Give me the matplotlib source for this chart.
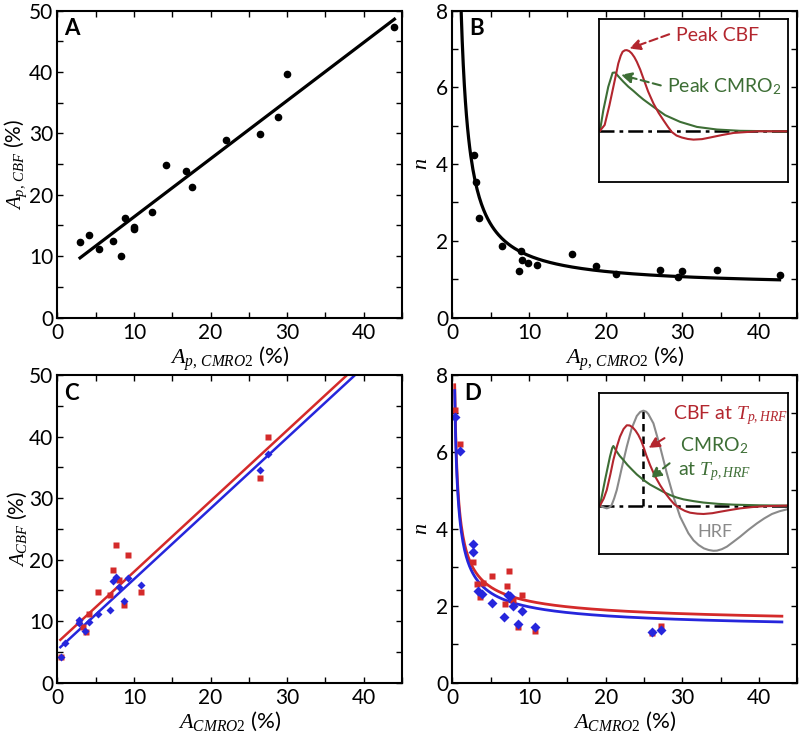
import numpy as np
import matplotlib
matplotlib.use('Agg')
import matplotlib.pyplot as plt
from matplotlib.ticker import MultipleLocator

plt.rcParams['font.family'] = ['Lato', 'DejaVu Sans']
plt.rcParams['mathtext.fontset'] = 'custom'
plt.rcParams['mathtext.it'] = 'Liberation Serif:italic'
plt.rcParams['mathtext.rm'] = 'Liberation Serif'
plt.rcParams['mathtext.sf'] = 'Lato'

# ---------------- data ----------------
# Panel A: A_p,CMRO2 vs A_p,CBF
a_x = [2.97, 4.14, 5.49, 7.32, 8.37, 8.85, 10.07, 10.07, 12.34, 14.21, 16.82, 17.57, 22.05, 26.4, 28.8, 29.99, 44.0]
a_y = [12.35, 13.5, 11.2, 12.5, 10.0, 16.2, 14.8, 14.5, 17.2, 24.8, 23.9, 21.3, 29.0, 29.9, 32.6, 39.6, 47.4]
a_fit_slope, a_fit_icpt = 0.948, 6.9

# Panel B: n vs A_p,CMRO2
b_x = [2.86, 3.04, 3.51, 6.42, 8.93, 9.02, 8.67, 9.88, 11.1, 15.66, 18.78, 21.4, 27.1, 29.4, 29.96, 34.5, 42.7]
b_y = [4.23, 3.53, 2.59, 1.87, 1.73, 1.50, 1.20, 1.43, 1.37, 1.66, 1.34, 1.13, 1.23, 1.06, 1.20, 1.25, 1.11]
b_fit_a, b_fit_b = 0.79, 8.22

# Panel C: A_CMRO2 vs A_CBF (red squares, blue diamonds)
c_red_x = [0.5, 2.8, 3.3, 3.7, 4.2, 5.3, 6.9, 7.3, 7.6, 8.0, 8.7, 9.2, 10.9, 26.4, 27.5]
c_red_y = [4.2, 9.8, 9.0, 8.2, 11.1, 14.8, 14.2, 18.3, 22.3, 16.7, 12.6, 20.8, 14.8, 33.2, 40.0]
c_blue_x = [0.5, 1.0, 2.8, 2.8, 3.6, 4.2, 5.3, 6.9, 7.3, 7.7, 8.0, 8.7, 9.2, 10.9, 26.4, 27.5]
c_blue_y = [4.2, 6.4, 10.2, 9.7, 8.4, 9.9, 11.2, 11.8, 16.6, 17.2, 15.6, 13.2, 17.0, 15.9, 34.6, 37.2]
c_red_fit = (1.15, 6.5)
c_blue_fit = (1.15, 5.3)

# Panel D: n vs A_CMRO2
d_red_x = [0.3, 0.95, 2.75, 3.2, 3.55, 4.0, 5.2, 6.8, 7.1, 7.45, 7.9, 8.5, 9.1, 10.8, 26.1, 27.2]
d_red_y = [7.1, 6.2, 3.15, 2.56, 2.22, 2.6, 2.77, 2.05, 2.52, 2.9, 2.14, 1.45, 2.28, 1.34, 1.28, 1.47]
d_blue_x = [0.3, 0.95, 2.7, 2.7, 3.3, 3.85, 5.2, 6.7, 7.25, 7.5, 7.9, 8.5, 9.05, 10.8, 26.1, 27.2]
d_blue_y = [6.92, 6.03, 3.6, 3.41, 2.38, 2.31, 2.08, 1.72, 2.27, 2.25, 1.99, 1.53, 1.87, 1.46, 1.31, 1.36]
d_red_fit = (1.48, 2.865, 0.65)   # n = a + b * x^-p
d_blue_fit = (1.33, 2.865, 0.65)

# Inset B (normalised coordinates)
ib_base = 0.3135
ib_green_u = [0.005, 0.023, 0.049, 0.072, 0.085, 0.105, 0.129, 0.155, 0.182, 0.210, 0.235, 0.288, 0.350, 0.429, 0.518, 0.624, 0.747, 0.995]
ib_green_v = [0.314, 0.441, 0.584, 0.670, 0.672, 0.645, 0.615, 0.585, 0.559, 0.530, 0.506, 0.461, 0.410, 0.369, 0.338, 0.322, 0.314, 0.310]
ib_red_u = [0.005, 0.030, 0.055, 0.076, 0.090, 0.102, 0.115, 0.125, 0.137, 0.147, 0.160, 0.173, 0.187, 0.200, 0.218, 0.235, 0.260, 0.288, 0.315, 0.341, 0.365, 0.385, 0.410, 0.438, 0.470, 0.500, 0.545, 0.588, 0.650, 0.712, 0.836, 0.995]
ib_red_v = [0.314, 0.350, 0.470, 0.584, 0.660, 0.727, 0.775, 0.799, 0.808, 0.809, 0.803, 0.789, 0.766, 0.738, 0.690, 0.635, 0.555, 0.482, 0.425, 0.379, 0.338, 0.307, 0.285, 0.273, 0.264, 0.260, 0.263, 0.273, 0.288, 0.301, 0.311, 0.311]

# Inset D (normalised coordinates)
id_base = 0.301
id_hrf_u = [0.005, 0.025, 0.041, 0.055, 0.067, 0.080, 0.094, 0.107, 0.120, 0.147, 0.173, 0.200, 0.218, 0.235, 0.250, 0.261, 0.288, 0.323, 0.359, 0.394, 0.429, 0.473, 0.500, 0.527, 0.555, 0.580, 0.605, 0.624, 0.650, 0.677, 0.710, 0.747, 0.790, 0.836, 0.875, 0.915, 0.955, 0.995]
id_hrf_v = [0.301, 0.290, 0.284, 0.290, 0.305, 0.345, 0.398, 0.465, 0.533, 0.668, 0.782, 0.859, 0.884, 0.892, 0.885, 0.871, 0.813, 0.668, 0.502, 0.357, 0.232, 0.129, 0.085, 0.056, 0.035, 0.025, 0.020, 0.021, 0.030, 0.046, 0.075, 0.108, 0.150, 0.191, 0.222, 0.249, 0.266, 0.278]
id_red_u = [0.005, 0.025, 0.041, 0.060, 0.076, 0.095, 0.111, 0.130, 0.147, 0.162, 0.178, 0.193, 0.208, 0.222, 0.235, 0.250, 0.270, 0.295, 0.323, 0.350, 0.376, 0.400, 0.429, 0.455, 0.482, 0.520, 0.553, 0.600, 0.641, 0.690, 0.747, 0.810, 0.871, 0.995]
id_red_v = [0.301, 0.345, 0.398, 0.495, 0.585, 0.670, 0.730, 0.778, 0.801, 0.800, 0.788, 0.768, 0.741, 0.708, 0.668, 0.615, 0.554, 0.487, 0.429, 0.380, 0.340, 0.308, 0.284, 0.268, 0.257, 0.251, 0.249, 0.254, 0.263, 0.273, 0.284, 0.292, 0.297, 0.301]
id_green_u = [0.005, 0.032, 0.058, 0.070, 0.076, 0.085, 0.094, 0.110, 0.129, 0.150, 0.173, 0.200, 0.235, 0.270, 0.306, 0.340, 0.376, 0.410, 0.447, 0.500, 0.553, 0.630, 0.712, 0.850, 0.995]
id_green_v = [0.301, 0.461, 0.606, 0.660, 0.672, 0.655, 0.637, 0.610, 0.585, 0.555, 0.527, 0.495, 0.461, 0.432, 0.409, 0.387, 0.367, 0.352, 0.340, 0.329, 0.320, 0.312, 0.307, 0.303, 0.301]
id_tpeak_u = 0.235
id_tpeak_v = 0.892

RED = '#d42a2a'
BLUE = '#2626dc'
IN_RED = '#b3262e'
IN_GREEN = '#3d6e35'
GRAY = '#8a8a8a'

fig = plt.figure(figsize=(8, 7.35), dpi=100)
W, H = 0.431, 0.4175
axA = fig.add_axes([0.0716, 0.568, W, H])
axB = fig.add_axes([0.5655, 0.568, W, H])
axC = fig.add_axes([0.0716, 0.0712, W, 0.4186])
axD = fig.add_axes([0.5655, 0.0712, W, 0.4186])


def style(ax, ymax, ymajor, yminor):
    ax.set_xlim(0, 45)
    ax.set_ylim(0, ymax)
    ax.xaxis.set_major_locator(MultipleLocator(10))
    ax.xaxis.set_minor_locator(MultipleLocator(5))
    ax.yaxis.set_major_locator(MultipleLocator(ymajor))
    ax.yaxis.set_minor_locator(MultipleLocator(yminor))
    ax.tick_params(which='both', direction='in', top=True, right=True, length=4, width=1)
    ax.tick_params(axis='x', which='major', labelsize=15, pad=4)
    ax.tick_params(axis='y', which='major', labelsize=15, pad=3)
    for s in ax.spines.values():
        s.set_linewidth(1.5)


lab_x_p = r'$A_{p,\,CMRO2}$ (%)'
lab_x = r'$A_{CMRO2}$ (%)'

# Panel A
style(axA, 50, 10, 5)
axA.plot(a_x, a_y, 'o', color='k', ms=4.5)
fx = np.array([min(a_x), max(a_x)])
axA.plot(fx, a_fit_slope * fx + a_fit_icpt, color='k', lw=2.3)
axA.set_xlabel(lab_x_p, fontsize=16, labelpad=1)
axA.set_ylabel(r'$A_{p,\,CBF}$ (%)', fontsize=15, labelpad=0)
axA.text(0.02, 0.975, 'A', transform=axA.transAxes, fontsize=16, fontweight='bold', va='top')

# Panel B
style(axB, 8, 2, 1)
axB.plot(b_x, b_y, 'o', color='k', ms=4.5)
bx = np.linspace(1.0, max(b_x), 300)
axB.plot(bx, b_fit_a + b_fit_b / bx, color='k', lw=2.3)
axB.set_xlabel(lab_x_p, fontsize=16, labelpad=1)
axB.set_ylabel(r'$n$', fontsize=16, labelpad=4)
axB.text(0.05, 0.975, 'B', transform=axB.transAxes, fontsize=16, fontweight='bold', va='top')

# Panel C
style(axC, 50, 10, 5)
cx = np.array([0.4, 45])
axC.plot(cx, c_red_fit[0] * cx + c_red_fit[1], color=RED, lw=1.8)
axC.plot(cx, c_blue_fit[0] * cx + c_blue_fit[1], color=BLUE, lw=1.8)
axC.plot(c_red_x, c_red_y, 's', color=RED, ms=4.5, mec='none')
axC.plot(c_blue_x, c_blue_y, 'D', color=BLUE, ms=3.8, mec='none')
axC.set_xlabel(lab_x, fontsize=16, labelpad=1)
axC.set_ylabel(r'$A_{CBF}$ (%)', fontsize=15, labelpad=0)
axC.text(0.02, 0.975, 'C', transform=axC.transAxes, fontsize=16, fontweight='bold', va='top')

# Panel D
style(axD, 8, 2, 1)
dx = np.linspace(0.3, 43, 400)
axD.plot(dx, d_red_fit[0] + d_red_fit[1] * dx ** (-d_red_fit[2]), color=RED, lw=2)
axD.plot(dx, d_blue_fit[0] + d_blue_fit[1] * dx ** (-d_blue_fit[2]), color=BLUE, lw=2)
axD.plot(d_red_x, d_red_y, 's', color=RED, ms=4.5, mec='none')
axD.plot(d_blue_x, d_blue_y, 'D', color=BLUE, ms=5.5, mec='none')
axD.set_xlabel(lab_x, fontsize=16, labelpad=1)
axD.set_ylabel(r'$n$', fontsize=16, labelpad=4)
axD.text(0.035, 0.975, 'D', transform=axD.transAxes, fontsize=16, fontweight='bold', va='top')

# Inset B
iB = fig.add_axes([599 / 800, (735 - 182) / 735, 189 / 800, 163 / 735])
iB.set_xlim(0, 1); iB.set_ylim(0, 1)
iB.set_xticks([]); iB.set_yticks([])
for s in iB.spines.values():
    s.set_linewidth(1.3)
iB.plot([0, 1], [ib_base, ib_base], color='k', lw=1.8, ls=(0, (6, 2, 1.5, 2)))
iB.plot(ib_green_u, ib_green_v, color=IN_GREEN, lw=1.5)
iB.plot(ib_red_u, ib_red_v, color=IN_RED, lw=1.5)
iB.annotate('', xy=(0.147, 0.813), xytext=(0.385, 0.912),
            arrowprops=dict(arrowstyle='-|>', color=IN_RED, lw=1.5, ls=(0, (4, 2)), mutation_scale=16))
iB.text(0.41, 0.90, 'Peak CBF', color=IN_RED, fontsize=14, va='center', ha='left')
iB.annotate('', xy=(0.102, 0.662), xytext=(0.341, 0.588),
            arrowprops=dict(arrowstyle='-|>', color=IN_GREEN, lw=1.5, ls=(0, (4, 2)), mutation_scale=16))
iB.text(0.36, 0.584, r'Peak CMRO$_\mathsf{2}$', color=IN_GREEN, fontsize=14, va='center', ha='left')

# Inset D
iD = fig.add_axes([599 / 800, (735 - 554) / 735, 189 / 800, 160.7 / 735])
iD.set_xlim(0, 1); iD.set_ylim(0, 1)
iD.set_xticks([]); iD.set_yticks([])
for s in iD.spines.values():
    s.set_linewidth(1.3)
iD.plot([0, 1], [id_base, id_base], color='k', lw=1.8, ls=(0, (6, 2, 1.5, 2)))
iD.plot([id_tpeak_u, id_tpeak_u], [id_base, id_tpeak_v], color='k', lw=1.8, ls=(0, (3, 2)))
iD.plot(id_hrf_u, id_hrf_v, color=GRAY, lw=1.5)
iD.plot(id_green_u, id_green_v, color=IN_GREEN, lw=1.5)
iD.plot(id_red_u, id_red_v, color=IN_RED, lw=1.5)
iD.annotate('', xy=(0.249, 0.651), xytext=(0.359, 0.730),
            arrowprops=dict(arrowstyle='-|>', color=IN_RED, lw=1.5, ls=(0, (4, 2)), mutation_scale=16))
iD.text(0.39, 0.865, r'CBF at $T_{p,HRF}$', color=IN_RED, fontsize=14, va='center', ha='left')
iD.annotate('', xy=(0.261, 0.461), xytext=(0.385, 0.575),
            arrowprops=dict(arrowstyle='-|>', color=IN_GREEN, lw=1.5, ls=(0, (4, 2)), mutation_scale=16))
iD.text(0.61, 0.672, r'CMRO$_\mathsf{2}$', color=IN_GREEN, fontsize=14, va='center', ha='center')
iD.text(0.61, 0.512, r'at $T_{p,HRF}$', color=IN_GREEN, fontsize=14, va='center', ha='center')
iD.text(0.615, 0.139, 'HRF', color=GRAY, fontsize=13, va='center', ha='center')

fig.savefig('out.png', dpi=100)
